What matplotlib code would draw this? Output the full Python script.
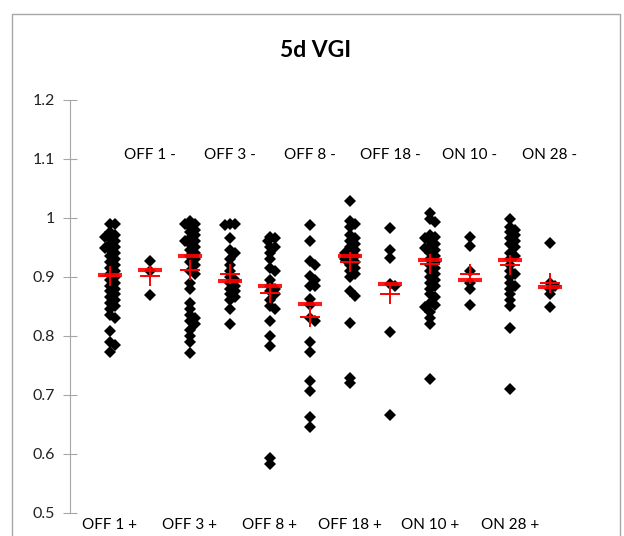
import numpy as np
import matplotlib
matplotlib.use('Agg')
import matplotlib.pyplot as plt
from matplotlib.patches import Rectangle

plt.rcParams['font.family'] = ['Lato', 'DejaVu Sans']

labels = ['OFF 1 +', 'OFF 1 -', 'OFF 3 +', 'OFF 3 -', 'OFF 8 +', 'OFF 8 -',
          'OFF 18 +', 'OFF 18 -', 'ON 10 +', 'ON 10 -', 'ON 28 +', 'ON 28 -']

off1_pos = [0.989, 0.989, 0.975, 0.97, 0.968, 0.965, 0.96, 0.955, 0.95, 0.948,
            0.945, 0.94, 0.935, 0.93, 0.925, 0.92, 0.915, 0.91, 0.905, 0.90,
            0.895, 0.89, 0.885, 0.88, 0.875, 0.87, 0.865, 0.86, 0.855, 0.85,
            0.845, 0.835, 0.83, 0.808, 0.79, 0.785, 0.772]
off1_neg = [0.926, 0.91, 0.869]
off3_pos = [0.995, 0.99, 0.99, 0.985, 0.98, 0.975, 0.97, 0.965, 0.96, 0.96,
            0.955, 0.95, 0.945, 0.94, 0.935, 0.93, 0.925, 0.92, 0.91, 0.905,
            0.89, 0.88, 0.855, 0.845, 0.835, 0.83, 0.825, 0.82, 0.81, 0.80,
            0.79, 0.77]
off3_neg = [0.99, 0.99, 0.988, 0.965, 0.945, 0.94, 0.93, 0.92, 0.91, 0.90,
            0.895, 0.89, 0.885, 0.88, 0.875, 0.87, 0.865, 0.86, 0.845, 0.82]
off8_pos = [0.968, 0.965, 0.96, 0.95, 0.95, 0.94, 0.93, 0.915, 0.91, 0.895,
            0.885, 0.88, 0.875, 0.87, 0.86, 0.85, 0.845, 0.825, 0.80, 0.782,
            0.592, 0.582]
off8_neg = [0.988, 0.96, 0.927, 0.92, 0.902, 0.895, 0.885, 0.885, 0.862, 0.852,
            0.83, 0.825, 0.79, 0.773, 0.723, 0.706, 0.663, 0.645]
off18_pos = [1.028, 0.995, 0.99, 0.985, 0.97, 0.965, 0.96, 0.955, 0.95, 0.945,
             0.94, 0.94, 0.935, 0.93, 0.93, 0.925, 0.92, 0.915, 0.91, 0.905,
             0.90, 0.875, 0.868, 0.822, 0.729, 0.72]
off18_neg = [0.983, 0.945, 0.932, 0.888, 0.885, 0.806, 0.666]
on10_pos = [1.008, 0.998, 0.992, 0.97, 0.968, 0.965, 0.96, 0.955, 0.95, 0.948,
            0.945, 0.94, 0.935, 0.93, 0.925, 0.92, 0.915, 0.91, 0.905, 0.90,
            0.895, 0.89, 0.885, 0.88, 0.87, 0.865, 0.855, 0.852, 0.848, 0.84,
            0.83, 0.82, 0.727]
on10_neg = [0.968, 0.952, 0.91, 0.89, 0.88, 0.852]
on28_pos = [0.998, 0.985, 0.98, 0.975, 0.97, 0.965, 0.96, 0.955, 0.95, 0.94,
            0.935, 0.93, 0.92, 0.91, 0.905, 0.90, 0.89, 0.885, 0.88, 0.87,
            0.86, 0.85, 0.813, 0.709]
on28_neg = [0.957, 0.89, 0.885, 0.88, 0.87, 0.849]

groups = [off1_pos, off1_neg, off3_pos, off3_neg, off8_pos, off8_neg,
          off18_pos, off18_neg, on10_pos, on10_neg, on28_pos, on28_neg]

# thick red bar and thin red cross
medians = [0.903, 0.911, 0.935, 0.892, 0.885, 0.853, 0.935, 0.887, 0.929, 0.895, 0.928, 0.882]
means = [0.902, 0.902, 0.911, 0.905, 0.873, 0.831, 0.925, 0.871, 0.922, 0.905, 0.920, 0.889]


def swarm(vals, ypx=590.0, step=5.0, xunit=40.0):
    # simple beeswarm: place each point at nearest free horizontal slot
    vals = np.asarray(vals)
    placed = []
    offs = np.zeros(len(vals))
    for i in np.argsort(vals)[::-1]:
        y = vals[i] * ypx
        for k in range(0, 30):
            cands = [0.0] if k == 0 else [k * step / 2, -k * step / 2]
            found = None
            for x in cands:
                if all((x - px) ** 2 + (y - py) ** 2 >= step ** 2 for px, py in placed):
                    found = x
                    break
            if found is not None:
                placed.append((found, y))
                offs[i] = found / xunit
                break
    return offs


fig = plt.figure(figsize=(6.24, 5.36), dpi=100)
ax = fig.add_axes([70 / 624, 0.0433, 520 / 624, 0.7707])

for i, vals in enumerate(groups):
    x = i + 1
    ax.plot(x + swarm(vals), vals, 'D', color='black', ms=6, mew=0, zorder=2)
    ax.plot(x, medians[i], '_', color='red', ms=17, mew=3, alpha=0.9, zorder=3)
    ax.plot(x, means[i], '+', color='red', ms=15, mew=1.4, zorder=4)

ax.set_xlim(0, 13)
ax.set_ylim(0.5, 1.2)
ax.set_yticks(np.arange(0.5, 1.21, 0.1))
ax.set_yticklabels([f'{v:g}' for v in np.round(np.arange(0.5, 1.21, 0.1), 1)])
ax.set_xticks([])
for s in ['top', 'right', 'bottom']:
    ax.spines[s].set_visible(False)
ax.spines['left'].set_color('#a6a6a6')
ax.tick_params(axis='y', direction='inout', length=10, color='#a6a6a6',
               labelsize=11.5, labelcolor='#222222', pad=6)

for i, lab in enumerate(labels):
    x = i + 1
    if i % 2 == 0:
        ax.annotate(lab, (x, 0.5), xytext=(0, -4), textcoords='offset points',
                    ha='center', va='top', fontsize=11, annotation_clip=False)
    else:
        ax.text(x, 1.107, lab, ha='center', va='center', fontsize=11)

fig.text(0.506, 0.905, '5d VGI', ha='center', va='center', fontsize=16.5, fontweight='bold')
fig.patches.append(Rectangle((12 / 624, -0.05), 608 / 624, 1.05 - 14 / 536,
                             transform=fig.transFigure, fill=False,
                             edgecolor='#a6a6a6', lw=1))

fig.savefig('out.png', dpi=100)
